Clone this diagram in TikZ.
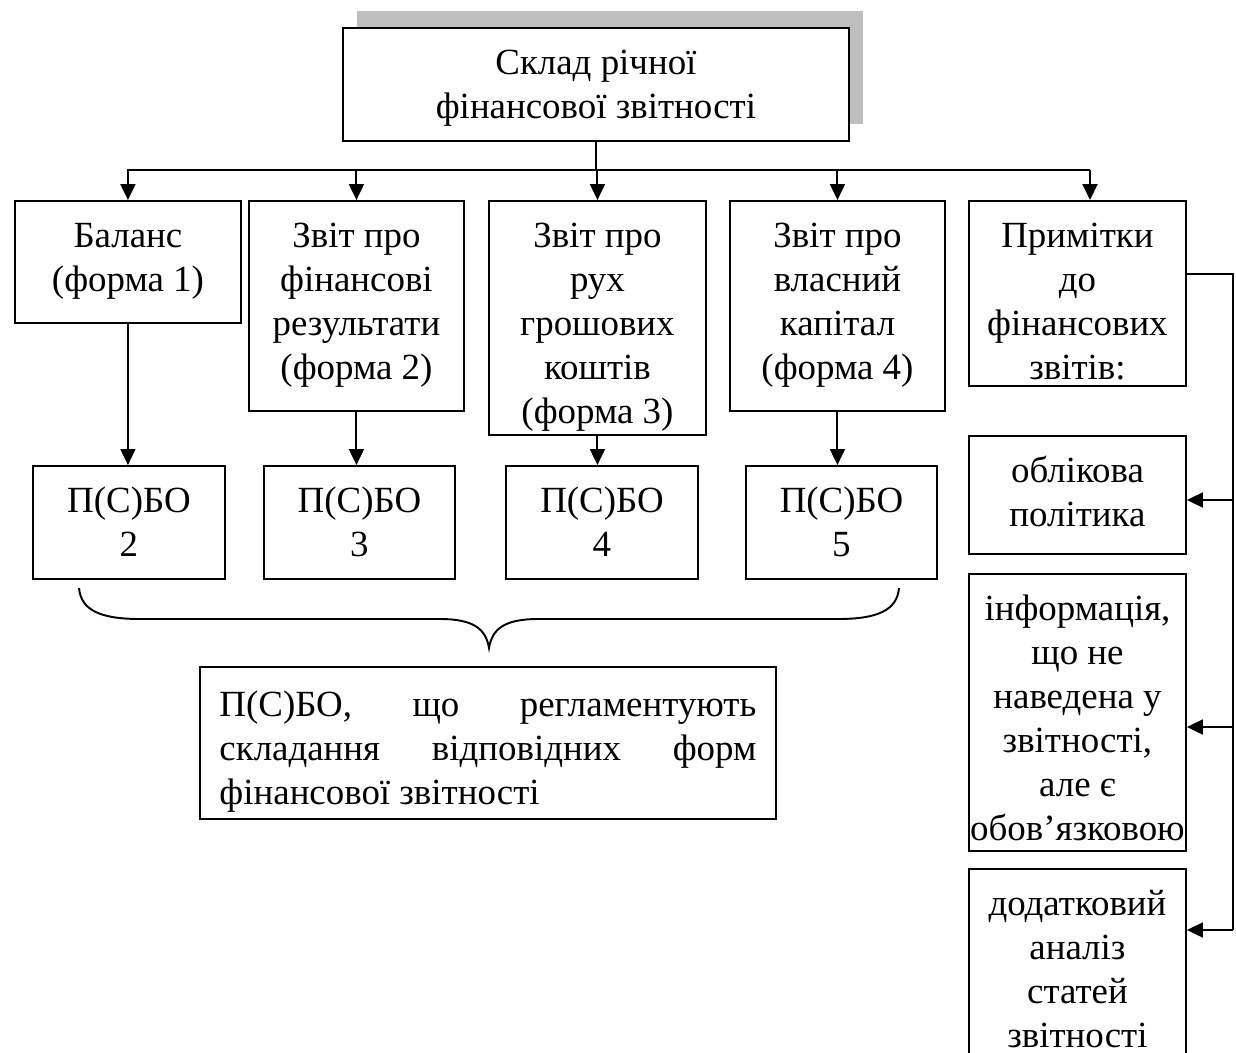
\documentclass[tikz,border=0pt]{standalone}
\usepackage{fontspec}
\setmainfont{Liberation Serif}
\usetikzlibrary{arrows.meta,shadows}

% text set from the top of a box of given width and height
\newcommand{\btext}[3]{\parbox[c][#2][t]{#1}{\centering\rule{0pt}{0.94cm}#3}}

\begin{document}
\begin{tikzpicture}[x=0.02cm,y=-0.02cm,
  line width=1.1pt,
  >={Triangle[length=0.32cm,width=0.3cm]},
  box/.style={draw, rectangle, anchor=north west, inner sep=0pt, fill=white, font=\fontsize{21}{25}\selectfont},
  grey shadow/.style={drop shadow={shadow xshift=0.28cm, shadow yshift=0.34cm, fill=black!25, draw=none, opacity=1}}]
\clip (0,0) rectangle (1236,1052);
% top
\node[box, grey shadow] (top) at (342,27) {\btext{10.12cm}{2.26cm}{Склад річної\\фінансової звітності}};
% forms
\node[box] (bal) at (14,200) {\btext{4.52cm}{2.44cm}{Баланс\\(форма 1)}};
\node[box] (fin) at (248,200) {\btext{4.30cm}{4.20cm}{Звіт про\\фінансові\\результати\\(форма 2)}};
\node[box] (cash) at (488,200) {\btext{4.34cm}{4.68cm}{Звіт про\\рух\\грошових\\коштів\\(форма 3)}};
\node[box] (cap) at (729,200) {\btext{4.30cm}{4.20cm}{Звіт про\\власний\\капітал\\(форма 4)}};
\node[box] (notes) at (968,200) {\btext{4.34cm}{3.70cm}{Примітки\\до\\фінансових\\звітів:}};
% standards
\node[box] (s2) at (32,465) {\btext{3.84cm}{2.26cm}{П(С)БО\\2}};
\node[box] (s3) at (263,465) {\btext{3.82cm}{2.26cm}{П(С)БО\\3}};
\node[box] (s4) at (505,465) {\btext{3.84cm}{2.26cm}{П(С)БО\\4}};
\node[box] (s5) at (745,465) {\btext{3.82cm}{2.26cm}{П(С)БО\\5}};
\node[box, inner xsep=0.39cm] (reg) at (199,666) {\parbox[c][3.04cm][t]{10.74cm}{\rule{0pt}{1.0cm}П(С)БО, що регламентують\linebreak складання відповідних форм\linebreak фінансової звітності}};
% notes content
\node[box] (pol) at (968,435) {\btext{4.34cm}{2.36cm}{облікова\\політика}};
\node[box] (info) at (968,573) {\btext{4.34cm}{5.54cm}{інформація,\\що не\\наведена у\\звітності,\\але є\\обов’язковою}};
\node[box] (add) at (968,868) {\btext{4.34cm}{4.00cm}{додатковий\\аналіз\\статей\\звітності}};

\coordinate (busL) at (127,170);
\coordinate (busR) at (1090,170);
\draw (top.south) -- (top.south |- busL);
\draw (busL) -- (busR);
\foreach \n in {bal,fin,cash,cap}
  \draw[->] (\n.north |- busL) -- (\n.north);
\draw[->] (busR) -- (busR |- notes.north);
\foreach \a/\b in {bal/s2,fin/s3,cash/s4,cap/s5}
  \draw[->] (\a.south) -- (\a.south |- \b.north);

% brace
\draw (79,588) .. controls (81,610) and (100,619) .. (140,619) -- (440,619)
  .. controls (475,619) and (486,630) .. (489,648)
  .. controls (492,630) and (503,619) .. (538,619) -- (838,619)
  .. controls (878,619) and (897,610) .. (899,588);

% notes side line
\coordinate (side) at (1233,274);
\coordinate (p1) at (1233,500);
\coordinate (p2) at (1233,727);
\coordinate (p3) at (1233,930);
\draw (notes.east |- side) -- (side) -- (p3);
\draw[->] (p1) -- (p1 -| pol.east);
\draw[->] (p2) -- (p2 -| info.east);
\draw[->] (p3) -- (p3 -| add.east);
\end{tikzpicture}
\end{document}
